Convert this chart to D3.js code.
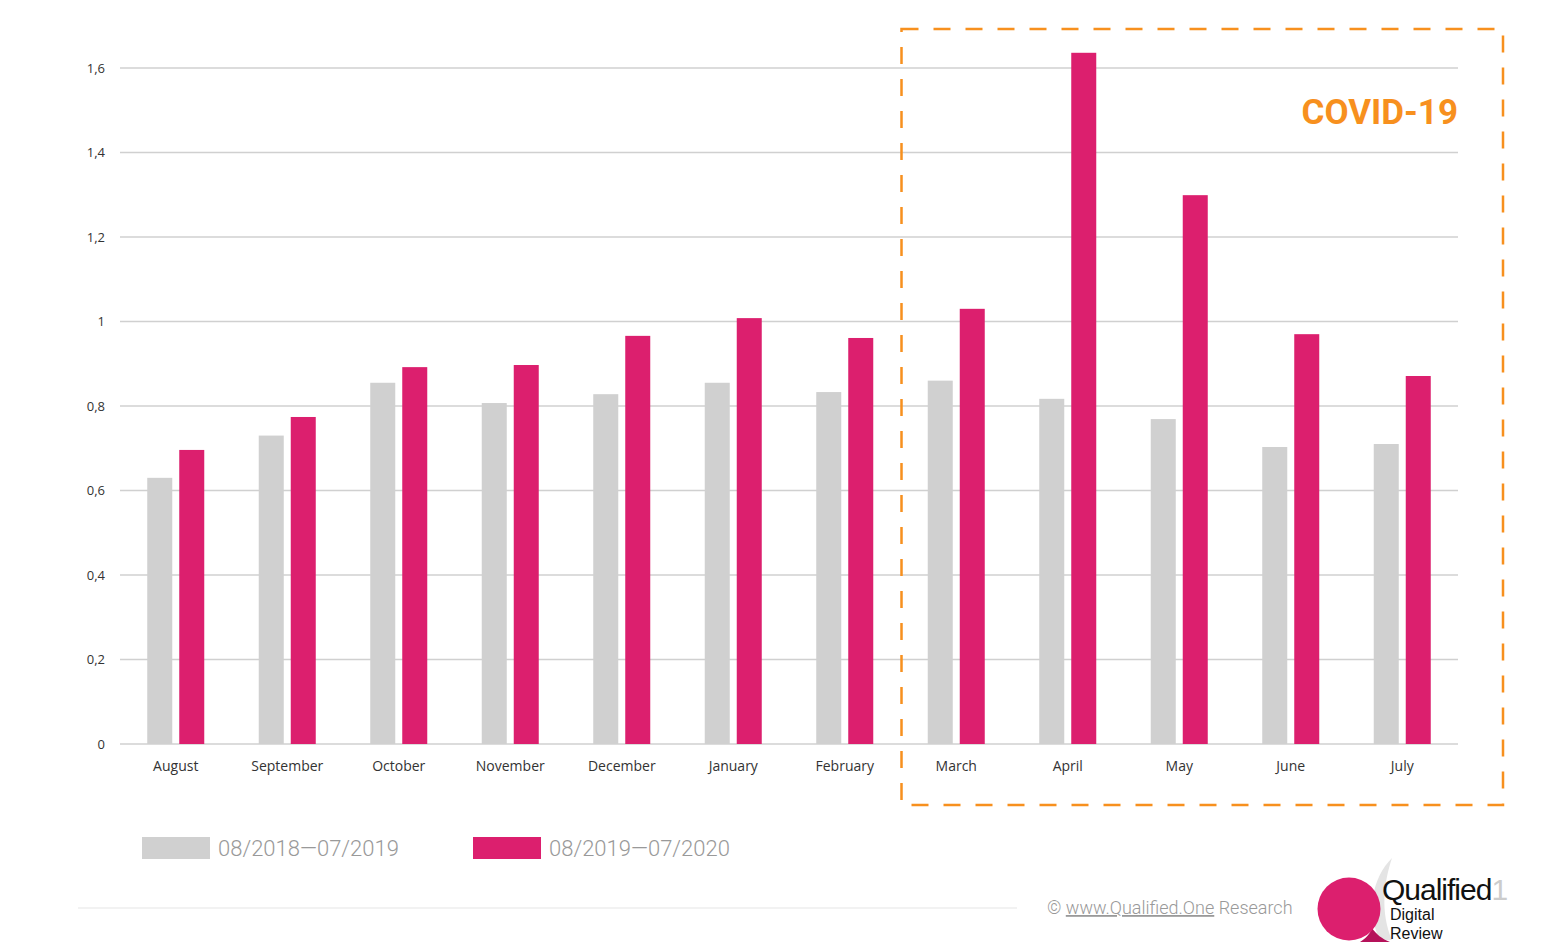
<!DOCTYPE html>
<html>
<head>
<meta charset="utf-8">
<script src="https://cdn.jsdelivr.net/npm/d3@7"></script>
<style>
  body { margin: 0; background: #fff; }
  svg { display: block; }
</style>
</head>
<body>
<svg id="chart" width="1557" height="942"></svg>
<script>
// datos
const meses = ["August", "September", "October", "November", "December", "January",
  "February", "March", "April", "May", "June", "July"];
const serie2019 = [0.63, 0.73, 0.855, 0.807, 0.828, 0.855, 0.833, 0.86, 0.817, 0.769, 0.703, 0.71];
const serie2020 = [0.696, 0.774, 0.892, 0.897, 0.966, 1.008, 0.961, 1.03, 1.636, 1.299, 0.97, 0.871];
const yTicks = [0, 0.2, 0.4, 0.6, 0.8, 1, 1.2, 1.4, 1.6];
const leyenda = ["08/2018\u201407/2019", "08/2019\u201407/2020"];
const covidMeses = ["March", "July"];

const svg = d3.select("#chart");
const gris = "#d0d0d0";
const rosa = "#dc1f6e";
const naranja = "#f7901e";

const x = d3.scaleBand().domain(meses).range([120, 1458]);
const y = d3.scaleLinear().domain([0, 1.6]).range([744, 68]);

// rejilla
svg.append("g").selectAll("line")
  .data(yTicks)
  .join("line")
  .attr("x1", 120).attr("x2", 1458)
  .attr("y1", d => y(d)).attr("y2", d => y(d))
  .attr("stroke", gris).attr("stroke-width", 1.5);

// eje y
const yAxis = d3.axisLeft(y).tickValues(yTicks).tickSize(0).tickPadding(0)
  .tickFormat(d => String(d).replace(".", ","));
svg.append("g")
  .attr("transform", "translate(105,0)")
  .call(yAxis)
  .call(g => g.select(".domain").remove())
  .selectAll("text")
  .attr("font-family", "Open Sans").attr("font-size", 13).attr("fill", "#333");

// eje x
const xAxis = d3.axisBottom(x).tickSize(0).tickPadding(17);
svg.append("g")
  .attr("transform", "translate(0,744)")
  .call(xAxis)
  .call(g => g.select(".domain").remove())
  .selectAll("text")
  .attr("font-family", "Open Sans").attr("font-size", 14).attr("fill", "#333");

// barras
const barW = 25;
const gap = 7;
const barras = svg.append("g");
barras.selectAll(".b19")
  .data(meses)
  .join("rect")
  .attr("class", "b19")
  .attr("x", d => x(d) + x.bandwidth() / 2 - gap / 2 - barW)
  .attr("y", (d, i) => y(serie2019[i]))
  .attr("width", barW)
  .attr("height", (d, i) => y(0) - y(serie2019[i]))
  .attr("fill", gris);
barras.selectAll(".b20")
  .data(meses)
  .join("rect")
  .attr("class", "b20")
  .attr("x", d => x(d) + x.bandwidth() / 2 + gap / 2)
  .attr("y", (d, i) => y(serie2020[i]))
  .attr("width", barW)
  .attr("height", (d, i) => y(0) - y(serie2020[i]))
  .attr("fill", rosa);

// recuadro covid
const bx0 = x(covidMeses[0]) + 1;
svg.append("rect")
  .attr("x", bx0).attr("y", 29)
  .attr("width", 1503 - bx0).attr("height", 776)
  .attr("fill", "none")
  .attr("stroke", naranja).attr("stroke-width", 2.5)
  .attr("stroke-dasharray", "17,15");

svg.append("text")
  .attr("x", 1458).attr("y", 124)
  .attr("text-anchor", "end")
  .attr("font-family", "Roboto").attr("font-weight", 700)
  .attr("font-size", 35).attr("fill", naranja)
  .text("COVID-19");

// leyenda
const colores = [gris, rosa];
const leg = svg.append("g").selectAll("g")
  .data(leyenda)
  .join("g")
  .attr("transform", (d, i) => `translate(${142 + i * 331},837)`);
leg.append("rect").attr("width", 68).attr("height", 22).attr("fill", (d, i) => colores[i]);
leg.append("text")
  .attr("x", 76).attr("y", 19)
  .attr("font-family", "Roboto").attr("font-weight", 300)
  .attr("font-size", 22).attr("fill", "#999")
  .text(d => d);

// pie
svg.append("line")
  .attr("x1", 78).attr("x2", 1017).attr("y1", 908).attr("y2", 908)
  .attr("stroke", "#eee").attr("stroke-width", 1.5);

const pie = svg.append("text")
  .attr("x", 1047).attr("y", 914)
  .attr("font-family", "Roboto").attr("font-weight", 300)
  .attr("font-size", 18).attr("fill", "#999");
pie.append("tspan").text("\u00a9 ");
pie.append("tspan").attr("text-decoration", "underline").text("www.Qualified.One");
pie.append("tspan").text(" Research");

// logo
svg.append("path")
  .attr("d", "M1392,858 C1372,878 1366,912 1380,940 L1392,940 C1380,912 1384,882 1392,858 Z")
  .attr("fill", "#e4e4e4");
svg.append("path")
  .attr("d", "M1372,928 C1376,934 1382,939 1390,942 L1360,942 C1366,938 1370,934 1372,928 Z")
  .attr("fill", "#b5125a");
svg.append("circle").attr("cx", 1349).attr("cy", 909).attr("r", 31.5).attr("fill", rosa);
const q = svg.append("text")
  .attr("x", 1382).attr("y", 900)
  .attr("font-family", "Liberation Sans")
  .attr("font-size", 30).attr("letter-spacing", -1).attr("fill", "#111");
q.append("tspan").text("Qualified");
q.append("tspan").attr("fill", "#ccc").text("1");
svg.append("text")
  .attr("x", 1390).attr("y", 920)
  .attr("font-family", "Liberation Sans").attr("font-size", 16).attr("fill", "#111")
  .text("Digital");
svg.append("text")
  .attr("x", 1390).attr("y", 939)
  .attr("font-family", "Liberation Sans").attr("font-size", 16).attr("fill", "#111")
  .text("Review");
</script>
</body>
</html>
